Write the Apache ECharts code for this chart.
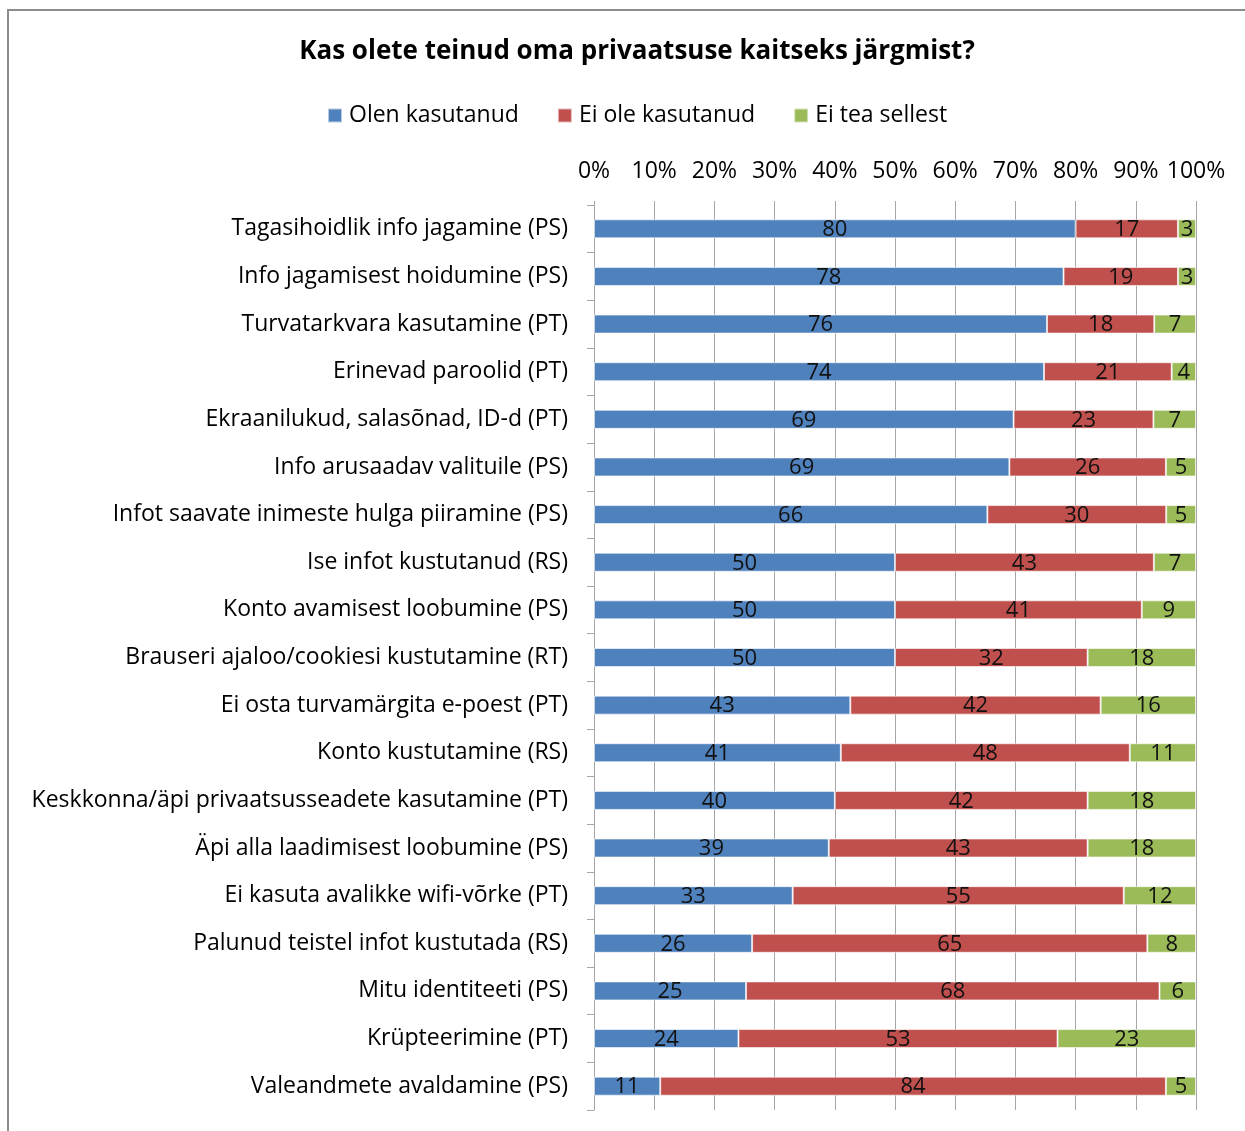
<!DOCTYPE html>
<html>
<head>
<meta charset="utf-8">
<script src="https://cdn.jsdelivr.net/npm/echarts@6/dist/echarts.min.js"></script>
<style>
  html, body { margin: 0; padding: 0; background: #fff; }
  #chart { width: 1245px; height: 1131px; }
</style>
</head>
<body>
<div id="chart"></div>
<script>
const categories = [
  "Tagasihoidlik info jagamine (PS)",
  "Info jagamisest hoidumine (PS)",
  "Turvatarkvara kasutamine (PT)",
  "Erinevad paroolid (PT)",
  "Ekraanilukud, salasõnad, ID-d (PT)",
  "Info arusaadav valituile (PS)",
  "Infot saavate inimeste hulga piiramine (PS)",
  "Ise infot kustutanud (RS)",
  "Konto avamisest loobumine (PS)",
  "Brauseri ajaloo/cookiesi kustutamine (RT)",
  "Ei osta turvamärgita e-poest (PT)",
  "Konto kustutamine (RS)",
  "Keskkonna/äpi privaatsusseadete kasutamine (PT)",
  "Äpi alla laadimisest loobumine (PS)",
  "Ei kasuta avalikke wifi-võrke (PT)",
  "Palunud teistel infot kustutada (RS)",
  "Mitu identiteeti (PS)",
  "Krüpteerimine (PT)",
  "Valeandmete avaldamine (PS)"
];
const olenKasutanud = [80, 78, 76, 74, 69, 69, 66, 50, 50, 50, 43, 41, 40, 39, 33, 26, 25, 24, 11];
const eiOleKasutanud = [17, 19, 18, 21, 23, 26, 30, 43, 41, 32, 42, 48, 42, 43, 55, 65, 68, 53, 84];
const eiTeaSellest = [3, 3, 7, 4, 7, 5, 5, 7, 9, 18, 16, 11, 18, 18, 12, 8, 6, 23, 5];
const seriesNames = ["Olen kasutanud", "Ei ole kasutanud", "Ei tea sellest"];
const colors = ["#4F81BD", "#C0504D", "#9BBB59"];
const xTicks = [0, 10, 20, 30, 40, 50, 60, 70, 80, 90, 100];

const FONT = "Open Sans";
const raw = [olenKasutanud, eiOleKasutanud, eiTeaSellest];
const totals = categories.map((c, i) => raw[0][i] + raw[1][i] + raw[2][i]);

const chart = echarts.init(document.getElementById("chart"));

chart.setOption({
  animation: false,
  color: colors,
  title: {
    text: "Kas olete teinud oma privaatsuse kaitseks järgmist?",
    left: 632,
    textAlign: "center",
    top: 34,
    textStyle: { fontFamily: FONT, fontSize: 26, fontWeight: "bold", color: "#000" }
  },
  legend: {
    top: 99,
    left: 322,
    itemWidth: 14,
    itemHeight: 14,
    itemGap: 38,
    icon: "rect",
    textStyle: { fontFamily: FONT, fontSize: 23, color: "#000", padding: [0, 0, 0, 2] },
    data: seriesNames
  },
  graphic: [{
    type: "rect",
    shape: { x: 8, y: 10, width: 1260, height: 1150 },
    style: { fill: "none", stroke: "#8c8c8c", lineWidth: 2 },
    silent: true
  }],
  grid: { left: 594, right: 49, top: 205, bottom: 21 },
  xAxis: {
    type: "value",
    position: "top",
    min: 0,
    max: 100,
    interval: 10,
    axisLine: { show: false },
    axisTick: { show: true, length: 4, lineStyle: { color: "#a6a6a6" } },
    splitLine: { show: true, lineStyle: { color: "#a6a6a6", width: 1 } },
    axisLabel: {
      margin: 22,
      fontFamily: FONT,
      fontSize: 23,
      color: "#000",
      formatter: v => xTicks.includes(v) ? v + "%" : ""
    }
  },
  yAxis: {
    type: "category",
    inverse: true,
    data: categories,
    axisLine: { show: true, lineStyle: { color: "#a6a6a6", width: 1 } },
    axisTick: { show: true, length: 7, lineStyle: { color: "#a6a6a6" } },
    axisLabel: { margin: 26, fontFamily: FONT, fontSize: 23, color: "#000" }
  },
  series: seriesNames.map((name, s) => ({
    name: name,
    type: "bar",
    stack: "total",
    barWidth: 19,
    itemStyle: { borderColor: "rgba(255,255,255,0.6)", borderWidth: 1 },
    label: {
      show: true,
      position: "inside",
      fontFamily: FONT,
      fontSize: 22,
      color: "#111",
      offset: [0, 1],
      formatter: p => raw[s][p.dataIndex]
    },
    data: raw[s].map((v, i) => v / totals[i] * 100)
  }))
});
</script>
</body>
</html>
